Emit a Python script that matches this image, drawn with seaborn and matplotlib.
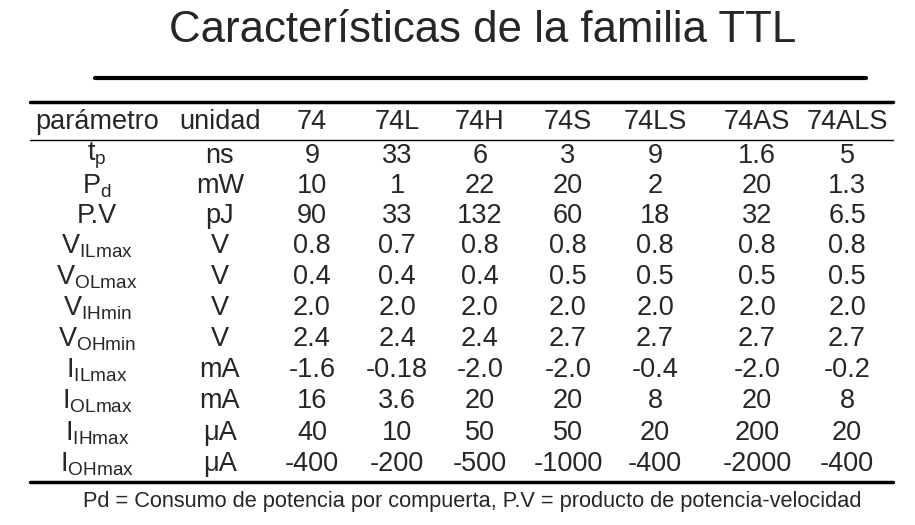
import matplotlib
matplotlib.use("Agg")
import matplotlib.pyplot as plt
import seaborn as sns

sns.set_theme(style="white")
plt.rcParams["font.family"] = "Liberation Sans"
plt.rcParams["mathtext.fontset"] = "custom"
plt.rcParams["mathtext.rm"] = "Liberation Sans"
plt.rcParams["mathtext.default"] = "regular"

title = "Características de la familia TTL"
header = ["parámetro", "unidad", "74", "74L", "74H", "74S", "74LS", "74AS", "74ALS"]
params = [r"t$_\mathregular{p}$", r"P$_\mathregular{d}$", "P.V",
          r"V$_\mathregular{ILmax}$", r"V$_\mathregular{OLmax}$", r"V$_\mathregular{IHmin}$",
          r"V$_\mathregular{OHmin}$", r"I$_\mathregular{ILmax}$", r"I$_\mathregular{OLmax}$",
          r"I$_\mathregular{IHmax}$", r"I$_\mathregular{OHmax}$"]
units = ["ns", "mW", "pJ", "V", "V", "V", "V", "mA", "mA", "μA", "μA"]
values = [
    ["9", "33", "6", "3", "9", "1.6", "5"],
    ["10", "1", "22", "20", "2", "20", "1.3"],
    ["90", "33", "132", "60", "18", "32", "6.5"],
    ["0.8", "0.7", "0.8", "0.8", "0.8", "0.8", "0.8"],
    ["0.4", "0.4", "0.4", "0.5", "0.5", "0.5", "0.5"],
    ["2.0", "2.0", "2.0", "2.0", "2.0", "2.0", "2.0"],
    ["2.4", "2.4", "2.4", "2.7", "2.7", "2.7", "2.7"],
    ["-1.6", "-0.18", "-2.0", "-2.0", "-0.4", "-2.0", "-0.2"],
    ["16", "3.6", "20", "20", "8", "20", "8"],
    ["40", "10", "50", "50", "20", "200", "20"],
    ["-400", "-200", "-500", "-1000", "-400", "-2000", "-400"],
]
footer = "Pd = Consumo de potencia por compuerta, P.V = producto de potencia-velocidad"

col_x = [97, 220, 312, 397, 480, 568, 655, 757, 847]
row_y = [156, 186, 216, 246, 277, 308, 339, 370, 401, 433, 464]

fig = plt.figure(figsize=(9.15, 5.25), dpi=100)
ax = fig.add_axes([0, 0, 1, 1])
ax.set_xlim(0, 915)
ax.set_ylim(525, 0)
ax.axis("off")

ax.text(483, 30, title, ha="center", va="center", fontsize=31.5)
ax.plot([95, 866], [78, 78], color="black", lw=3)
ax.plot([30, 893], [102, 102], color="black", lw=2.5)
ax.plot([30, 893], [140, 140], color="black", lw=1)
ax.plot([30, 893], [482, 482], color="black", lw=2.5)

fs = 19.5
for x, h in zip(col_x, header):
    ax.text(x, 122, h, ha="center", va="center", fontsize=fs)
for i, y in enumerate(row_y):
    ax.text(col_x[0], y, params[i], ha="center", va="center", fontsize=fs)
    ax.text(col_x[1], y, units[i], ha="center", va="center", fontsize=fs)
    for j, v in enumerate(values[i]):
        ax.text(col_x[j + 2], y, v, ha="center", va="center", fontsize=fs)

ax.text(472, 502, footer, ha="center", va="center", fontsize=15.7)
fig.savefig("out.png", dpi=100)
